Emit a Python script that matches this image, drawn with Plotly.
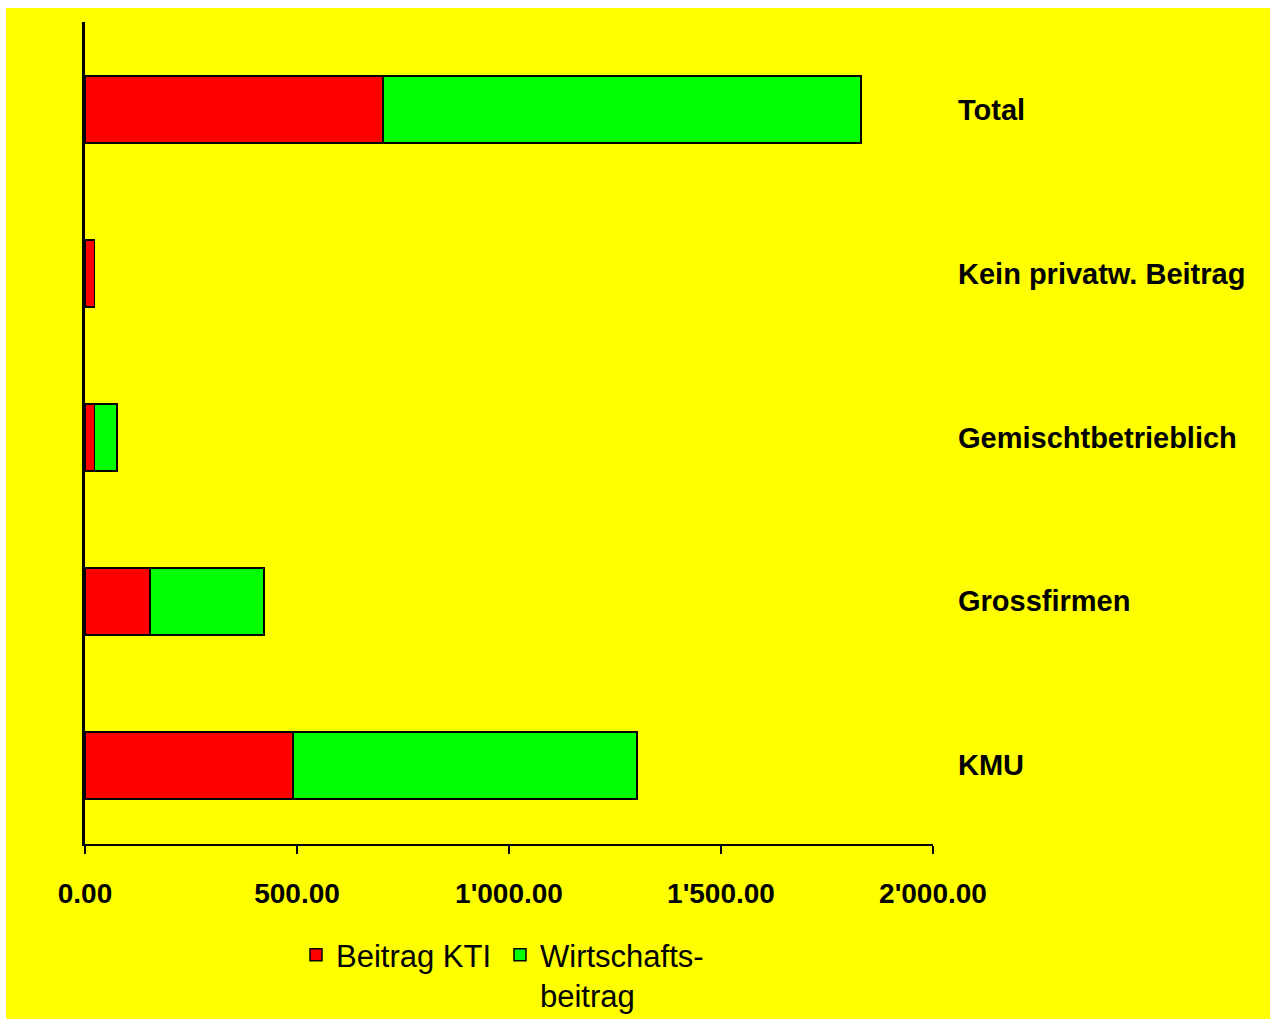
import plotly.graph_objects as go

# Categories listed bottom to top
categories = ["KMU", "Grossfirmen", "Gemischtbetrieblich", "Kein privatw. Beitrag", "Total"]
beitrag_kti = [490, 153, 22, 22, 703]
wirtschaftsbeitrag = [812, 269, 54, 0, 1127]
series_names = ["Beitrag KTI", "Wirtschafts-<br>beitrag"]

tick_vals = [0, 500, 1000, 1500, 2000]
tick_text = ["0.00", "500.00", "1'000.00", "1'500.00", "2'000.00"]

FONT = "Liberation Sans, Arial, sans-serif"
W, H = 1270, 1021
L, R, T, B = 85, 337, 22, 177
PW, PH = W - L - R, H - T - B


def px_to_paper_x(px):
    return (px - L) / PW


def px_to_paper_y(py):
    return (H - B - py) / PH


fig = go.Figure()
fig.add_trace(go.Bar(
    y=categories, x=beitrag_kti, orientation="h", name=series_names[0],
    marker=dict(color="#FF0000", line=dict(color="black", width=1.5)),
    width=0.41,
))
fig.add_trace(go.Bar(
    y=categories, x=wirtschaftsbeitrag, orientation="h", name=series_names[1],
    marker=dict(color="#00FF00", line=dict(color="black", width=1.5)),
    width=0.41,
))

# Category names to the right of the plot area
for cat in categories:
    fig.add_annotation(
        x=px_to_paper_x(956), xref="paper", y=cat, yref="y",
        text=f"<b>{cat}</b>", showarrow=False, xanchor="left", yanchor="middle",
        font=dict(family=FONT, size=29, color="black"),
    )

# Yellow chart area inside a thin white frame
fig.add_shape(
    type="rect", xref="paper", yref="paper", layer="below",
    x0=px_to_paper_x(6), x1=px_to_paper_x(1272),
    y0=px_to_paper_y(1019), y1=px_to_paper_y(8),
    fillcolor="#FFFF00", line=dict(width=0),
)

fig.update_layout(
    width=W, height=H,
    margin=dict(l=L, r=R, t=T, b=B, pad=0, autoexpand=False),
    paper_bgcolor="white",
    plot_bgcolor="rgba(0,0,0,0)",
    barmode="stack",
    font=dict(family=FONT, size=28, color="black"),
    showlegend=True,
    legend=dict(
        orientation="h", x=px_to_paper_x(296), xanchor="left",
        y=px_to_paper_y(928), yanchor="top", valign="top",
        entrywidth=159, entrywidthmode="pixels",
        bgcolor="rgba(0,0,0,0)", font=dict(family=FONT, size=31, color="black"),
        traceorder="normal",
    ),
    xaxis=dict(
        range=[0, 2000], showgrid=False, zeroline=False,
        showline=True, linecolor="black", linewidth=2,
        ticks="outside", ticklen=8, tickwidth=2, tickcolor="black",
        tickvals=tick_vals, ticktext=[f"<b>{t}</b>" for t in tick_text],
        tickfont=dict(family=FONT, size=28, color="black"),
        ticklabelstandoff=15,
        automargin=False,
    ),
    yaxis=dict(
        type="category", categoryorder="array", categoryarray=categories,
        range=[-0.479, 4.534], showgrid=False, zeroline=False,
        showline=True, linecolor="black", linewidth=3,
        showticklabels=False, ticks="",
    ),
)

fig.write_html("out.html")
